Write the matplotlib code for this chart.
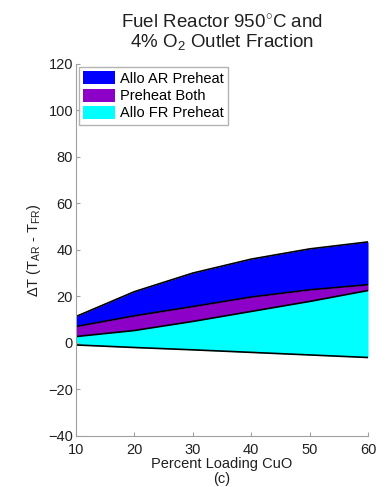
import matplotlib.pyplot as plt
import numpy as np

plt.rcParams['font.family'] = ['Liberation Sans', 'DejaVu Sans']
plt.rcParams['mathtext.fontset'] = 'custom'
plt.rcParams['mathtext.rm'] = 'Liberation Sans'
plt.rcParams['mathtext.it'] = 'Liberation Sans'

# percent loading CuO
loading = [10, 20, 30, 40, 50, 60]
# boundaries of the dT window
upper = [11.3, 22.0, 30.0, 36.0, 40.4, 43.4]       # top of Allo AR Preheat
both_top = [7.0, 11.6, 15.6, 19.7, 22.8, 25.0]     # top of Preheat Both
fr_top = [2.7, 5.3, 9.2, 13.5, 17.8, 22.5]         # top of Allo FR Preheat
lower = [-0.9, -2.0, -3.0, -4.1, -5.2, -6.3]       # bottom

labels = ['Allo AR Preheat', 'Preheat Both', 'Allo FR Preheat']
colors = ['#0000FF', '#8C00C8', '#00FFFF']

fig = plt.figure(figsize=(3.87, 4.87), dpi=100, facecolor='w')
ax = fig.add_axes([0.196, 0.105, 0.755, 0.764])

ax.fill_between(loading, both_top, upper, color=colors[0], lw=0, label=labels[0])
ax.fill_between(loading, fr_top, both_top, color=colors[1], lw=0, label=labels[1])
ax.fill_between(loading, lower, fr_top, color=colors[2], lw=0, label=labels[2])
for line in (upper, both_top, fr_top, lower):
    ax.plot(loading, line, color='k', lw=1.2)

ax.set_xlim(10, 60)
ax.set_ylim(-40, 120)
ax.set_xticks(np.arange(10, 61, 10))
ax.set_yticks(np.arange(-40, 121, 20))

for s in ('top', 'right'):
    ax.spines[s].set_visible(False)
for s in ('left', 'bottom'):
    ax.spines[s].set_color('#a0a0a0')
ax.tick_params(direction='in', length=3, color='#a0a0a0', labelsize=10.5,
               labelcolor='#202020', pad=2)
ax.tick_params(axis='x', pad=5)

ax.set_title('Fuel Reactor 950$^{\\circ}$C and\n4% O$_2$ Outlet Fraction',
             fontsize=13.5, color='#202020', pad=12, linespacing=1.0)
ax.set_xlabel('Percent Loading CuO\n(c)', fontsize=10.5, color='#202020',
              labelpad=0, linespacing=1.1)
ax.set_ylabel('$\\Delta$T (T$_{AR}$ - T$_{FR}$)', fontsize=10.5, color='#202020')

leg = ax.legend(loc='upper left', fontsize=10.5, frameon=True, fancybox=False,
                borderaxespad=0.2, handlelength=2.2, handleheight=1.0,
                borderpad=0.3, labelspacing=0.2, handletextpad=0.3)
leg.get_frame().set_edgecolor('#a0a0a0')
leg.get_frame().set_linewidth(1)

plt.savefig('out.png', dpi=100)
